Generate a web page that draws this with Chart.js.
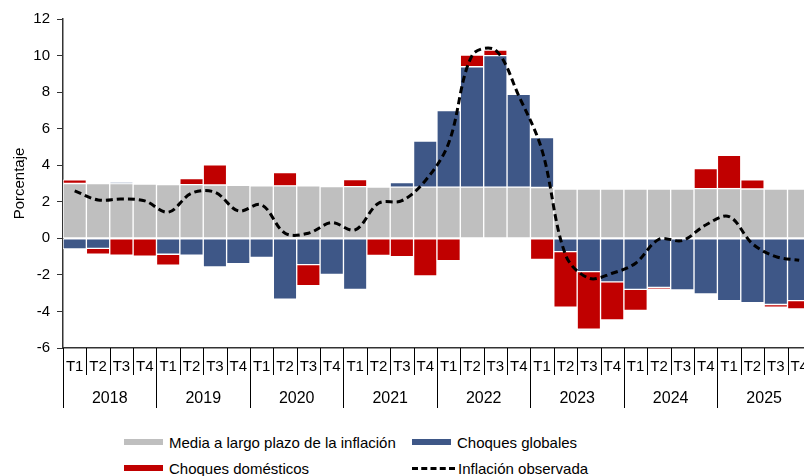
<!DOCTYPE html>
<html lang="es">
<head>
<meta charset="utf-8">
<title>Descomposición de la inflación</title>
<script src="https://cdn.jsdelivr.net/npm/chart.js@4/dist/chart.umd.min.js"></script>
<style>
  html, body {
    margin: 0;
    padding: 0;
    background: #fff;
    overflow: hidden;
  }
  #wrap {
    position: relative;
    width: 804px;
    height: 476px;
    overflow: hidden;
  }
  #chartBox {
    position: absolute;
    left: 0;
    top: 0;
    width: 818px;
    height: 420px;
  }
  #legend {
    position: absolute;
    left: 124px;
    top: 429px;
    display: grid;
    grid-template-columns: 288px auto;
    grid-auto-rows: 26px;
    font-family: "Liberation Sans", Arial, sans-serif;
    font-size: 15px;
    color: #000;
  }
  .item {
    display: flex;
    align-items: center;
    white-space: nowrap;
  }
  .swatch {
    display: inline-block;
    width: 39px;
    height: 6px;
    margin-right: 6px;
  }
  .swatch.dashed {
    width: 43px;
    height: 0;
    border-top: 3px dashed #000;
    margin-right: 3px;
  }
</style>
</head>
<body>
<div id="wrap">
  <div id="chartBox"><canvas id="inflationChart" width="818" height="420"></canvas></div>
  <div id="legend"></div>
</div>
<script>
const years = ["2018", "2019", "2020", "2021", "2022", "2023", "2024", "2025"];
const quarterNames = ["T1", "T2", "T3", "T4"];
const quarters = years.flatMap(() => quarterNames);

// Media a largo plazo de la inflación
const longRunMean = [
  3.0, 3.0, 3.0, 2.97, 2.94, 2.94, 2.92, 2.9,
  2.87, 2.87, 2.87, 2.83, 2.83, 2.8, 2.8, 2.8,
  2.8, 2.8, 2.8, 2.8, 2.78, 2.7, 2.7, 2.7,
  2.7, 2.7, 2.7, 2.72, 2.72, 2.7, 2.7, 2.7,
];

// Choques globales
const globalShocks = [
  -0.58, -0.55, 0.05, 0, -0.87, -0.92, -1.57, -1.38,
  -1.05, -3.33, -1.44, -1.98, -2.79, 0, 0.25, 2.52,
  4.19, 6.59, 7.2, 5.08, 2.73, -0.73, -1.82, -2.38,
  -2.79, -2.68, -2.82, -3.04, -3.41, -3.52, -3.62, -3.41,
];

// Choques domésticos
const domesticShocks = [
  0.2, -0.32, -0.92, -0.98, -0.6, 0.33, 1.1, 0,
  0, 0.73, -1.15, 0, 0.38, -0.94, -1.0, -2.06,
  -1.22, 0.63, 0.3, 0, -1.15, -3.04, -3.15, -2.08,
  -1.16, -0.1, 0, 1.1, 1.82, 0.5, -0.15, -0.45,
];

// Inflación observada
const observedInflation = [
  2.6, 2.1, 2.15, 2.05, 1.43, 2.47, 2.52, 1.5,
  1.83, 0.28, 0.28, 0.86, 0.46, 1.92, 2.06, 3.15,
  5.2, 10.0, 10.3, 7.8, 4.8, -0.9, -2.18, -1.91,
  -1.36, -0.05, -0.12, 0.73, 1.19, -0.3, -1.0, -1.2,
];

const GRAY = "#bfbfbf";
const BLUE = "#3e5787";
const RED = "#c00000";
const FONT = "'Liberation Sans', Arial, sans-serif";

Chart.defaults.font.family = FONT;
Chart.defaults.color = "#000";

function barSet(label, data, color) {
  return {
    label: label,
    data: data,
    backgroundColor: color,
    borderColor: "#ffffff",
    borderWidth: 1,
    borderSkipped: false,
    categoryPercentage: 1,
    barPercentage: 1,
    stack: "shocks",
    order: 0,
  };
}

// separators between quarters and years, plus the year labels under the axis
const yearAxis = {
  id: "yearAxis",
  afterDraw(chart) {
    const x = chart.scales.x;
    const ctx = chart.ctx;
    const bottom = chart.chartArea.bottom;
    const half = (x.getPixelForValue(1) - x.getPixelForValue(0)) / 2;

    ctx.save();
    ctx.strokeStyle = "#000";
    ctx.lineWidth = 1;
    for (let i = 0; i <= quarters.length; i++) {
      const px = Math.round(x.getPixelForValue(i) - half) + 0.5;
      const depth = i % 4 === 0 ? 60 : 27;
      ctx.beginPath();
      ctx.moveTo(px, bottom);
      ctx.lineTo(px, bottom + depth);
      ctx.stroke();
    }

    ctx.fillStyle = "#000";
    ctx.font = "16px " + FONT;
    ctx.textAlign = "center";
    ctx.textBaseline = "middle";
    years.forEach((year, k) => {
      const cx = (x.getPixelForValue(k * 4) + x.getPixelForValue(k * 4 + 3)) / 2;
      ctx.fillText(year, cx, bottom + 51);
    });
    ctx.restore();
  },
};

const chart = new Chart(document.getElementById("inflationChart"), {
  type: "bar",
  data: {
    labels: quarters,
    datasets: [
      barSet("Media a largo plazo de la inflación", longRunMean, GRAY),
      barSet("Choques globales", globalShocks, BLUE),
      barSet("Choques domésticos", domesticShocks, RED),
      {
        type: "line",
        label: "Inflación observada",
        data: observedInflation,
        borderColor: "#000",
        borderWidth: 3,
        borderDash: [7, 4],
        pointRadius: 0,
        tension: 0.35,
        fill: false,
        stack: "observed",
        order: -1,
      },
    ],
  },
  options: {
    responsive: false,
    animation: false,
    layout: {
      padding: { top: 19, right: 3, bottom: 0, left: 0 },
    },
    plugins: {
      legend: { display: false },
      tooltip: { enabled: false },
    },
    scales: {
      x: {
        stacked: true,
        offset: true,
        grid: { display: false, drawTicks: false },
        border: { display: true, color: "#333", width: 1.5 },
        ticks: {
          autoSkip: false,
          maxRotation: 0,
          padding: 10,
          font: { size: 15 },
          color: "#000",
        },
        afterFit(scale) {
          scale.height = 72;
        },
      },
      y: {
        stacked: true,
        min: -6,
        max: 12,
        ticks: {
          stepSize: 2,
          padding: 7,
          font: { size: 15 },
          color: "#000",
        },
        grid: {
          drawOnChartArea: false,
          drawTicks: true,
          tickLength: 6,
          color: "#333",
        },
        border: { display: true, color: "#333", width: 1.5 },
        title: {
          display: true,
          text: "Porcentaje",
          font: { size: 15 },
          color: "#000",
          padding: { top: 11, bottom: 0 },
        },
        afterFit(scale) {
          scale.width = 63;
        },
      },
    },
  },
  plugins: [yearAxis],
});

// legend in two rows of two, built from the chart's datasets
const legendBox = document.getElementById("legend");
chart.data.datasets.forEach((ds) => {
  const item = document.createElement("div");
  item.className = "item";
  const swatch = document.createElement("span");
  if (ds.type === "line") {
    swatch.className = "swatch dashed";
  } else {
    swatch.className = "swatch";
    swatch.style.background = ds.backgroundColor;
  }
  const text = document.createElement("span");
  text.textContent = ds.label;
  item.appendChild(swatch);
  item.appendChild(text);
  legendBox.appendChild(item);
});
</script>
</body>
</html>
